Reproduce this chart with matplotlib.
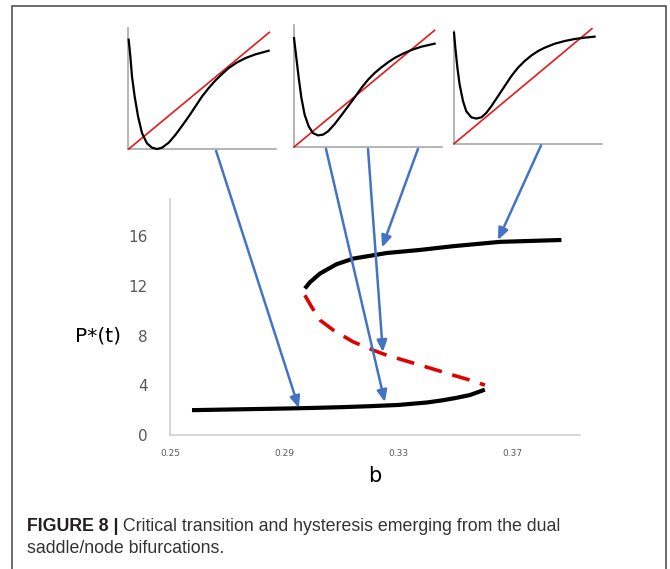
import matplotlib
matplotlib.use("Agg")
import matplotlib.pyplot as plt
from matplotlib.patches import Rectangle, ConnectionPatch

# ---------------- data ----------------
# main bifurcation diagram
lower_b = [0.2577, 0.27, 0.28, 0.29, 0.30, 0.31, 0.32, 0.33, 0.34, 0.345, 0.35, 0.355, 0.3602]
lower_P = [2.0, 2.05, 2.09, 2.13, 2.18, 2.24, 2.32, 2.42, 2.62, 2.78, 2.98, 3.22, 3.65]

upper_b = [0.2972, 0.299, 0.3005, 0.3025, 0.3083, 0.3141, 0.3258, 0.3375, 0.3491, 0.3655, 0.387]
upper_P = [11.8, 12.3, 12.6, 13.0, 13.75, 14.2, 14.65, 14.9, 15.2, 15.55, 15.7]

unstable_b = [0.2972, 0.2996, 0.3025, 0.3071, 0.3141, 0.3211, 0.3258, 0.3375, 0.3491, 0.355, 0.3602]
unstable_P = [11.25, 10.3, 9.25, 8.45, 7.5, 6.83, 6.43, 5.63, 4.82, 4.42, 4.02]

x_ticks = [0.25, 0.29, 0.33, 0.37]
x_tick_labels = ["0.25", "0.29", "0.33", "0.37"]
y_ticks = [0, 4, 8, 12, 16]
y_tick_labels = ["0", "4", "8", "12", "16"]

# inset schematic curves (normalised 0-100 units)
inset1_x = [0.45, 1.6, 2.7, 4.5, 6.8, 9.5, 12.8, 16.2, 19.6, 23.0, 27.5, 32.0, 36.5, 41.0,
            45.5, 50.0, 54.5, 59.0, 63.5, 68.0, 73.6, 79.3, 86.0, 95.0]
inset1_y = [90.3, 76.5, 59.9, 43.4, 26.8, 13.0, 4.7, 1.1, 0.0, 1.1, 5.2, 11.6, 19.1, 26.8,
            35.1, 43.4, 50.3, 56.6, 61.9, 66.9, 71.5, 75.1, 78.2, 81.2]
inset1_line_x = [0.5, 95.5]
inset1_line_y = [0.0, 96.4]

inset2_x = [0.0, 1.6, 3.2, 5.0, 7.2, 9.9, 12.8, 16.2, 19.6, 23.0, 27.5, 32.0, 36.5, 41.0,
            45.5, 50.0, 54.5, 59.0, 63.5, 68.0, 73.6, 79.3, 86.0, 95.0]
inset2_y = [89.1, 72.8, 56.4, 40.1, 26.4, 16.9, 11.4, 9.5, 10.1, 12.8, 18.8, 25.9, 33.2, 40.6,
            48.2, 55.0, 60.5, 65.1, 69.2, 72.8, 76.3, 79.3, 82.0, 84.5]
inset2_line_x = [0.0, 95.0]
inset2_line_y = [0.0, 95.4]

inset3_x = [0.0, 0.9, 2.3, 3.8, 6.1, 8.3, 11.7, 15.1, 18.5, 21.8, 25.2, 29.7, 34.2, 38.7,
            43.2, 47.7, 52.3, 56.8, 61.3, 68.0, 74.8, 81.5, 88.3, 95.0]
inset3_y = [98.5, 85.2, 67.4, 52.5, 37.7, 28.8, 23.4, 22.3, 23.4, 27.3, 33.2, 42.1, 51.0, 59.9,
            67.4, 73.3, 78.3, 82.2, 85.2, 88.7, 91.1, 92.9, 94.1, 95.0]
inset3_line_x = [0.0, 93.2]
inset3_line_y = [0.0, 102.1]

# arrows: source inset index + position along inset bottom (axes fraction), target (b, P)
arrow_src_inset = [0, 1, 1, 1, 2]
arrow_src_frac = [0.595, 0.216, 0.50, 0.838, 0.588]
arrow_tgt_b = [0.2951, 0.3252, 0.3245, 0.3242, 0.3648]
arrow_tgt_P = [2.17, 2.65, 6.67, 15.1, 15.7]

caption_bold = "FIGURE 8 |"
caption_rest = " Critical transition and hysteresis emerging from the dual"
caption_line2 = "saddle/node bifurcations."

# ---------------- figure ----------------
W, H = 670, 569
fig = plt.figure(figsize=(W / 100, H / 100), dpi=100)


def px_axes(left, right, top, bottom):
    return fig.add_axes([left / W, (H - bottom) / H, (right - left) / W, (bottom - top) / H])


# frame
fig.add_artist(Rectangle((12 / W, -0.05), (666 - 12) / W, (H - 6) / H + 0.05,
                         transform=fig.transFigure, fill=False, edgecolor="#444444", lw=1.1))

# main axes
ax = px_axes(170, 580, 199, 435)
ax.plot(lower_b, lower_P, color="black", lw=3.0, solid_capstyle="butt")
ax.plot(upper_b, upper_P, color="black", lw=3.0, solid_capstyle="butt")
ax.plot(unstable_b, unstable_P, color="#e00000", lw=2.6, dashes=(5, 3))
ax.set_xlim(0.25, 0.3935)
ax.set_ylim(0, 19.0)
ax.set_xticks(x_ticks)
ax.set_xticklabels(x_tick_labels, fontsize=6.5, color="#595959")
ax.set_yticks(y_ticks)
ax.set_yticklabels(y_tick_labels, fontsize=11, color="#595959")
ax.tick_params(length=0, axis="y", pad=16)
ax.tick_params(length=0, axis="x", pad=10)
for s in ["top", "right"]:
    ax.spines[s].set_visible(False)
for s in ["left", "bottom"]:
    ax.spines[s].set_color("#d0d0d0")
    ax.spines[s].set_linewidth(1.2)
ax.set_xlabel("b", fontsize=15, labelpad=6)
ax.set_ylabel("P*(t)", fontsize=14.5, rotation=0, labelpad=28, va="center")
ax.yaxis.set_label_coords(-0.175, 0.42)

# insets
inset_boxes = [(128, 276, 28, 149), (294, 442, 24.7, 147), (454, 602, 31, 143.7)]
inset_curves = [(inset1_x, inset1_y, inset1_line_x, inset1_line_y),
                (inset2_x, inset2_y, inset2_line_x, inset2_line_y),
                (inset3_x, inset3_y, inset3_line_x, inset3_line_y)]
insets = []
for (l, r, t, b), (cx, cy, lx, ly) in zip(inset_boxes, inset_curves):
    ia = px_axes(l, r, t, b)
    ia.plot(lx, ly, color="#e31a1c", lw=1.2, clip_on=False, zorder=3)
    ia.plot(cx, cy, color="black", lw=1.6, clip_on=False, zorder=4)
    ia.set_xlim(0, 100)
    ia.set_ylim(0, 100)
    ia.set_xticks([])
    ia.set_yticks([])
    for s in ["top", "right"]:
        ia.spines[s].set_visible(False)
    for s in ["left", "bottom"]:
        ia.spines[s].set_color("#a8a8a8")
        ia.spines[s].set_linewidth(1.2)
    ia.patch.set_alpha(0)
    insets.append(ia)

# arrows
for idx, fr, tb, tp in zip(arrow_src_inset, arrow_src_frac, arrow_tgt_b, arrow_tgt_P):
    con = ConnectionPatch(xyA=(fr, -0.015), coordsA="axes fraction", axesA=insets[idx],
                          xyB=(tb, tp), coordsB="data", axesB=ax,
                          arrowstyle="-|>,head_length=0.7,head_width=0.3",
                          color="#4472c4", lw=1.8, shrinkA=0, shrinkB=0, zorder=10)
    fig.add_artist(con)

# caption
cap_font = ["Liberation Sans", "DejaVu Sans"]
cap_size = 12.8
t1 = fig.text(27 / W, (H - 531) / H, caption_bold, fontsize=cap_size, fontweight="bold",
              family=cap_font, color="#231f20", va="baseline")
fig.canvas.draw()
bb = t1.get_window_extent()
fig.text(bb.x1 / W, (H - 531) / H, caption_rest, fontsize=cap_size, family=cap_font,
         color="#333333", va="baseline")
fig.text(27 / W, (H - 553) / H, caption_line2, fontsize=cap_size, family=cap_font,
         color="#333333", va="baseline")

fig.savefig("out.png", dpi=100)
